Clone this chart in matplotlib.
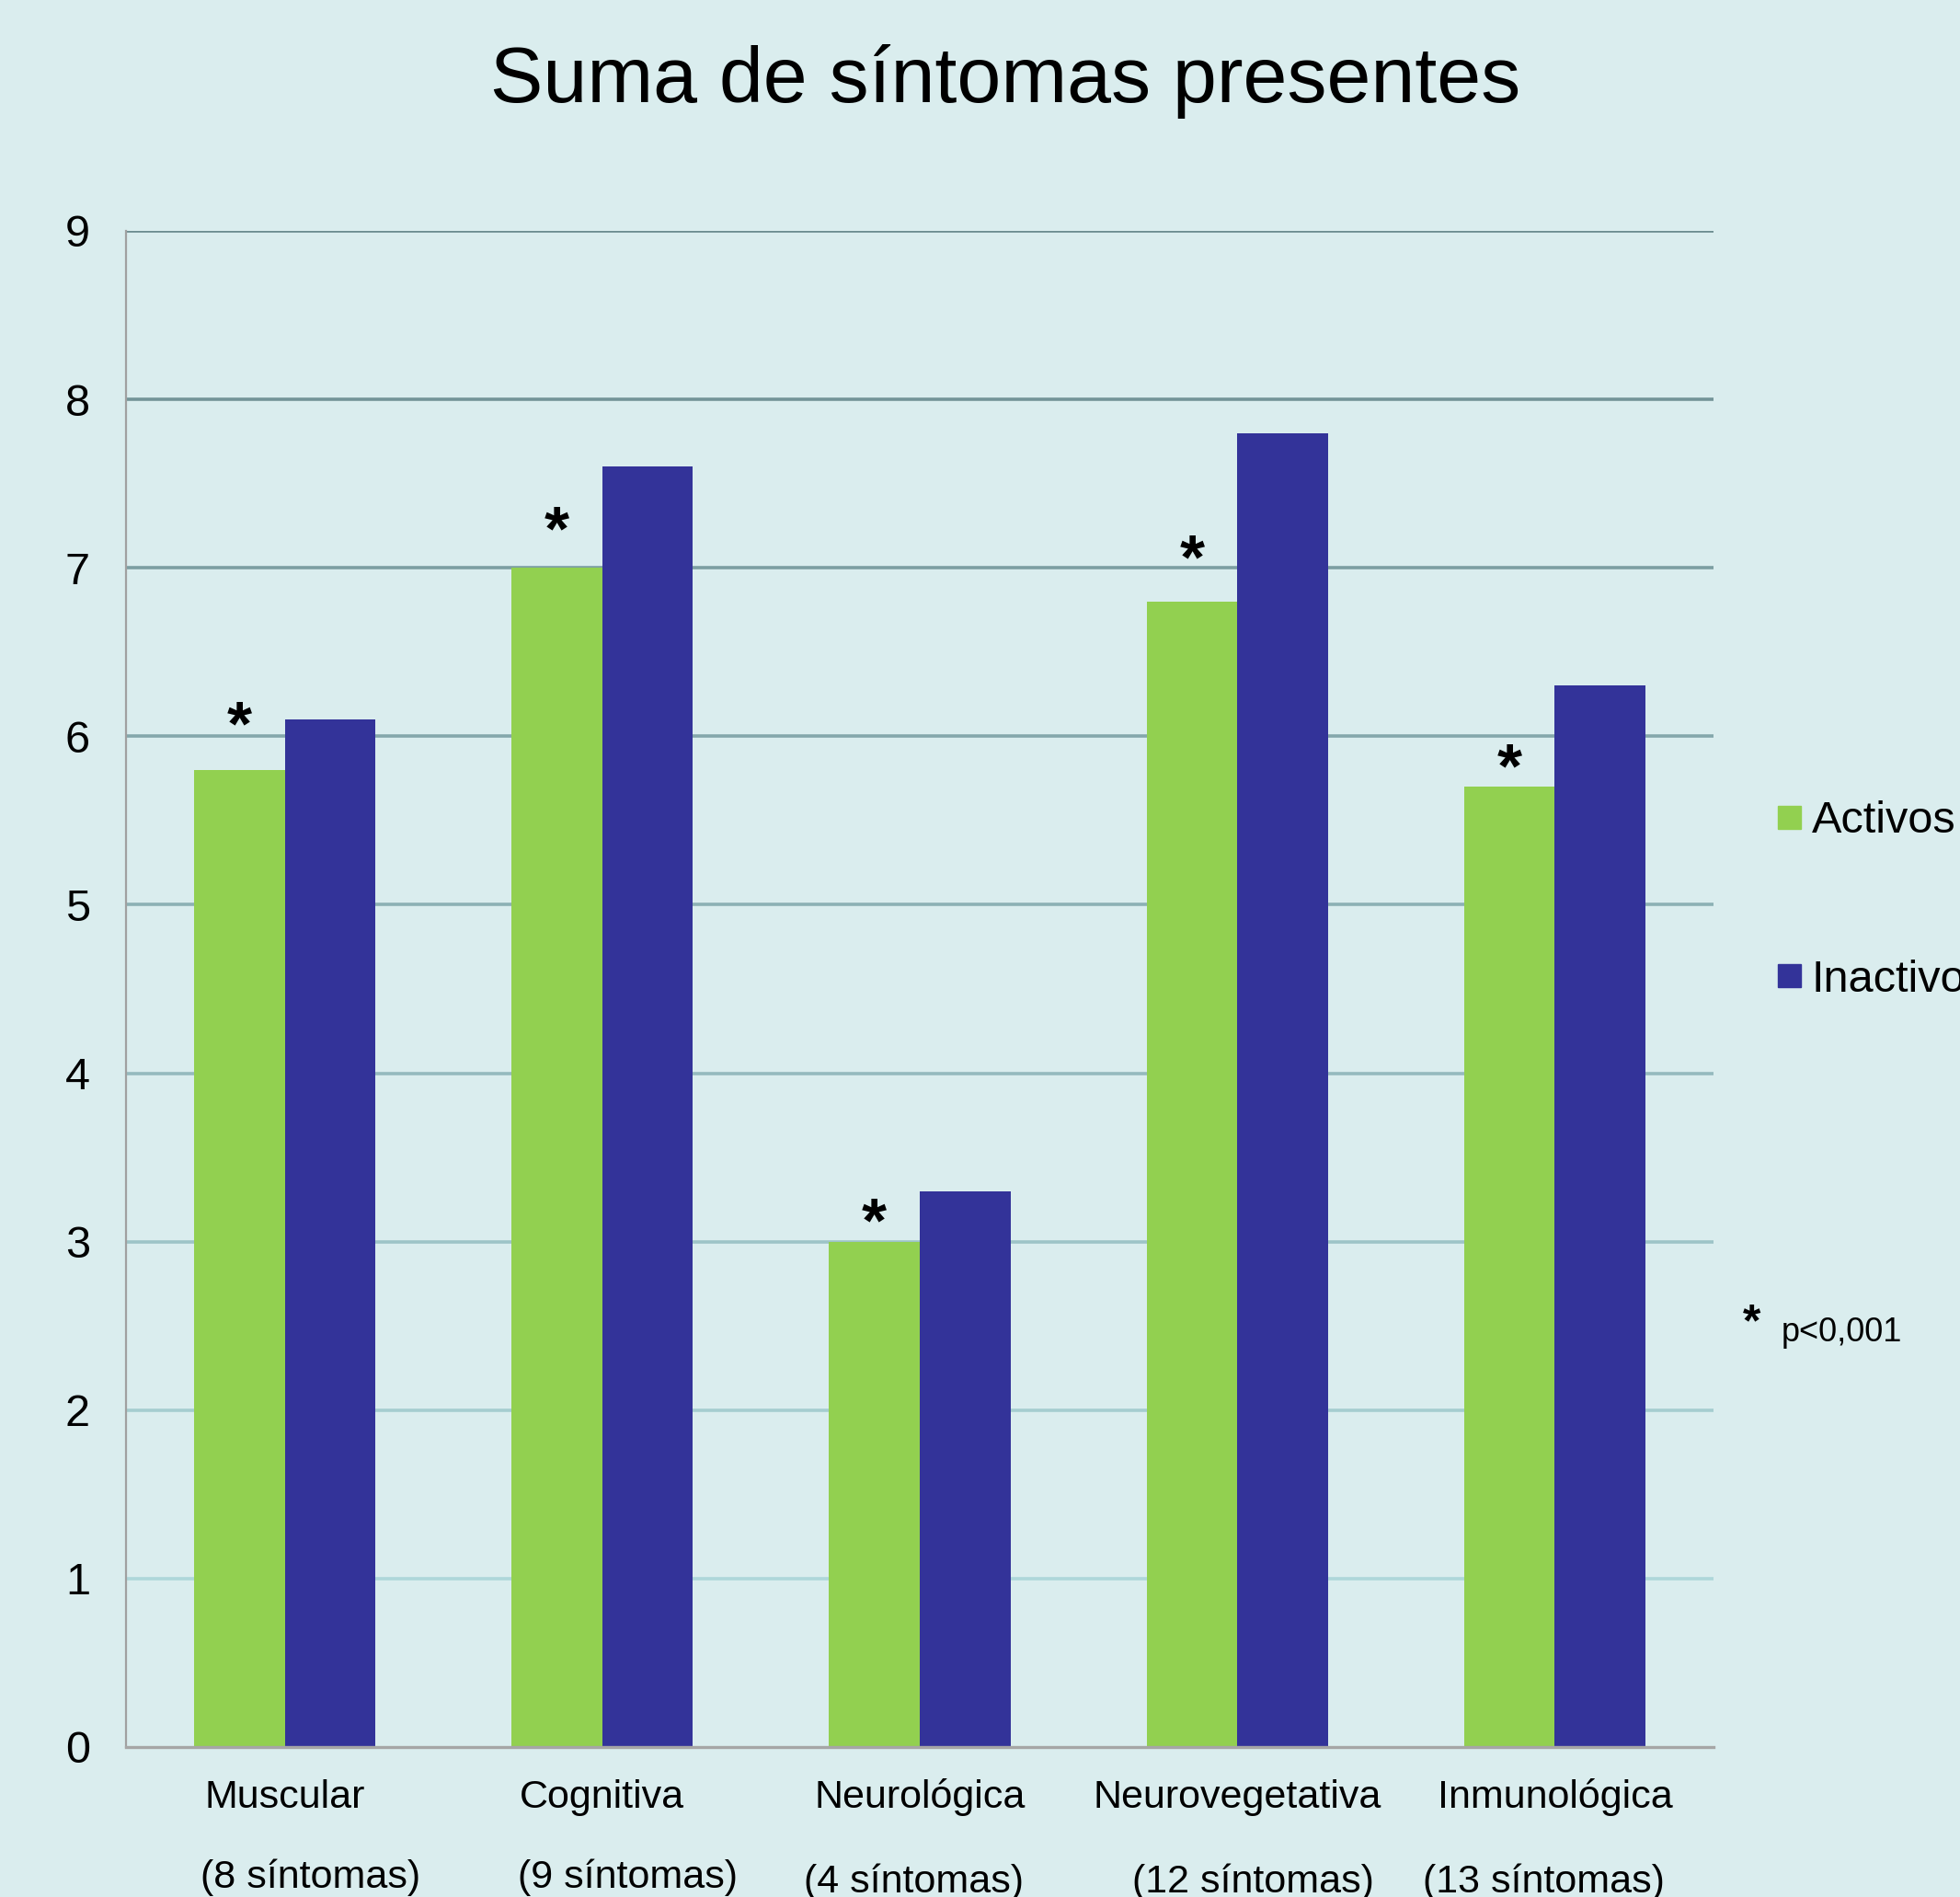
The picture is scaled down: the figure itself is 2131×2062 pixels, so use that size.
import numpy as np
import matplotlib
matplotlib.use("Agg")
import matplotlib.pyplot as plt
from matplotlib.colors import to_rgb
from matplotlib.patches import Rectangle
from matplotlib.transforms import blended_transform_factory

# data
categories = ["Muscular", "Cognitiva", "Neurológica", "Neurovegetativa", "Inmunológica"]
subtitles = ["(8 síntomas)", "(9 síntomas)", "(4 síntomas)", "(12 síntomas)", "(13 síntomas)"]
activos = [5.8, 7.0, 3.0, 6.8, 5.7]
inactivos = [6.1, 7.6, 3.3, 7.8, 6.3]
sig_height = [6.17, 7.33, 3.22, 7.16, 5.92]  # where the "*" marks sit
y_ticks = list(range(0, 10))

BG = "#daedee"
GREEN = "#92d050"
BLUE = "#333399"
MAIN_FONT = ["Liberation Sans", "DejaVu Sans"]

plt.rcParams["font.family"] = MAIN_FONT

W, H = 2131, 2062
fig = plt.figure(figsize=(W / 100, H / 100), dpi=100, facecolor=BG)
ax = fig.add_axes([137 / W, 1 - 1899 / H, (1863 - 137) / W, (1899 - 251) / H])
ax.set_facecolor(BG)

x = np.arange(len(categories))
bw = 1 / 3.5
ax.bar(x - bw / 2, activos, bw, color=GREEN, zorder=3, label="Activos")
ax.bar(x + bw / 2, inactivos, bw, color=BLUE, zorder=3, label="Inactivos")

ax.set_xlim(-0.5, len(categories) - 0.5)
ax.set_ylim(0, 9)

# gridlines fade from light cyan at the bottom to grey-teal at the top
lo, hi = np.array(to_rgb("#b6e0e3")), np.array(to_rgb("#6b8b8f"))
for v in y_ticks[1:]:
    c = lo + (hi - lo) * v / 9
    ax.axhline(v, color=c, lw=2.6, zorder=1)

for s in ["top", "right"]:
    ax.spines[s].set_visible(False)
ax.spines["left"].set_color("#a0a0a0")
ax.spines["left"].set_linewidth(1.6)
ax.spines["bottom"].set_color("#a6a6a6")
ax.spines["bottom"].set_linewidth(2.4)
ax.spines["bottom"].set_zorder(4)

ax.set_yticks(y_ticks)
ax.tick_params(axis="y", length=0, pad=28, labelsize=35)
ax.set_xticks([])

# two-line category labels
tr = blended_transform_factory(ax.transData, fig.transFigure)
sub_dx = [0.08, 0.08, -0.02, 0.05, -0.035]
sub_y = [0.0048, 0.0048, 0.0024, 0.0024, 0.0024]
for i, (name, sub) in enumerate(zip(categories, subtitles)):
    ax.text(x[i], 1 - 1965 / H, name, transform=tr, ha="center", va="baseline",
            fontsize=31)
    ax.text(x[i] + sub_dx[i], sub_y[i], sub, transform=tr, ha="center", va="baseline",
            fontsize=31)

# significance marks over the "Activos" bars
fs_star = 50
for xi, yi in zip(x - bw / 2, sig_height):
    ax.annotate("*", (xi, yi), xytext=(0, -0.58 * fs_star), textcoords="offset points",
                ha="center", va="baseline", fontsize=fs_star, fontweight="bold", zorder=5)

fig.text(1093 / W, 1 - 111 / H, "Suma de síntomas presentes", ha="center", va="baseline",
         fontsize=62)

# legend, placed by hand to the right of the plot
for label, color, yc in [("Activos", GREEN, 888), ("Inactivos", BLUE, 1060)]:
    fig.patches.append(Rectangle((1933 / W, 1 - (yc + 12.5) / H), 25 / W, 25 / H,
                                 transform=fig.transFigure, color=color))
    fig.text(1970 / W, 1 - yc / H, label, ha="left", va="center_baseline", fontsize=35)

fig.text(1905 / W, 1 - 1423 / H - 0.58 * 36 / 72 * 100 / H, "*", ha="center", va="baseline",
         fontsize=36, fontweight="bold")
fig.text(1937 / W, 1 - 1458 / H, "p<0,001", ha="left", va="baseline", fontsize=26)

fig.savefig("out.png", dpi=100, facecolor=BG)
